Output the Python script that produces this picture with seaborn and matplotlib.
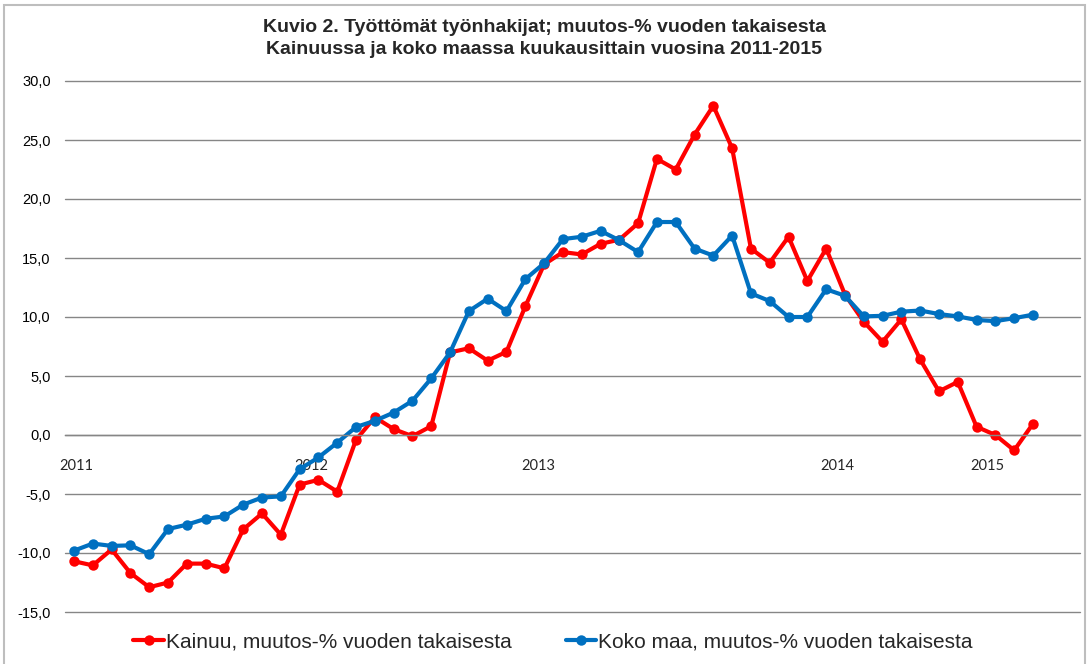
import numpy as np
import pandas as pd
import matplotlib
matplotlib.use("Agg")
import matplotlib.pyplot as plt
from matplotlib.ticker import FuncFormatter, FixedLocator
from matplotlib.patches import Rectangle
import seaborn as sns

# ---- data (monthly, Jan 2011 - Apr 2015) ----
kainuu = [-10.7, -11.05, -9.7, -11.7, -12.9, -12.5, -10.9, -10.9, -11.3, -8.0, -6.65, -8.45,
          -4.2, -3.8, -4.8, -0.4, 1.5, 0.5, -0.1, 0.75, 7.0, 7.35, 6.3, 7.05,
          10.9, 14.45, 15.5, 15.3, 16.2, 16.55, 17.95, 23.4, 22.5, 25.45, 27.9, 24.3,
          15.8, 14.6, 16.8, 13.05, 15.8, 11.9, 9.6, 7.9, 9.8, 6.4, 3.7, 4.5,
          0.7, 0.0, -1.3, 0.95]
koko_maa = [-9.8, -9.2, -9.4, -9.35, -10.1, -7.97, -7.6, -7.1, -6.9, -5.9, -5.3, -5.2,
            -2.9, -1.9, -0.65, 0.68, 1.2, 1.9, 2.9, 4.8, 7.0, 10.5, 11.55, 10.5,
            13.2, 14.55, 16.6, 16.8, 17.3, 16.5, 15.5, 18.05, 18.05, 15.8, 15.2, 16.9,
            12.0, 11.35, 10.0, 10.0, 12.35, 11.8, 10.05, 10.1, 10.45, 10.55, 10.25, 10.05,
            9.75, 9.65, 9.9, 10.2]
n_categories = 54  # category axis runs through Jun 2015
year_labels = ["2011", "2012", "2013", "2014", "2015"]
year_label_pos = [0.1, 12.6, 24.7, 40.6, 48.6]
series_names = ["Kainuu, muutos-% vuoden takaisesta", "Koko maa, muutos-% vuoden takaisesta"]
colors = ["#FF0000", "#0070C0"]
title_lines = ["Kuvio 2. Työttömät työnhakijat; muutos-% vuoden takaisesta",
               "Kainuussa ja koko maassa kuukausittain vuosina 2011-2015"]

sns.set_style("white")
plt.rcParams["font.family"] = ["Liberation Sans", "DejaVu Sans"]

W, H = 1089, 664
fig = plt.figure(figsize=(W / 100, H / 100), dpi=100)
ax = fig.add_axes([64.6 / W, (H - 612) / H, (1080 - 64.6) / W, (612 - 81) / H])

months = np.arange(len(kainuu))
df = pd.DataFrame({"month": np.concatenate([months, months]),
                   "value": kainuu + koko_maa,
                   "series": [series_names[0]] * len(kainuu) + [series_names[1]] * len(koko_maa)})

for name, col in zip(series_names, colors):
    sub = df[df["series"] == name]
    sns.lineplot(data=sub, x="month", y="value", ax=ax, color=col, linewidth=3.0,
                 marker="o", markersize=7.5, markeredgewidth=0, label=name, legend=False)

ax.set_xlim(-0.5, n_categories - 0.5)
ax.set_ylim(-15, 30)
ax.set_xlabel("")
ax.set_ylabel("")

# y axis
ax.yaxis.set_major_locator(FixedLocator(np.arange(-15, 30.1, 5)))
ax.yaxis.set_major_formatter(FuncFormatter(lambda v, p: f"{v:.1f}".replace(".", ",")))
ax.tick_params(axis="y", length=0, pad=10, labelsize=10.5, labelcolor="#000000")
ax.grid(axis="y", color="#868686", linewidth=1.0)
ax.grid(axis="x", visible=False)
for gl in ax.get_ygridlines():
    gl.set_clip_on(False)

# x axis crossing at zero
for s in ["top", "right", "left"]:
    ax.spines[s].set_visible(False)
ax.spines["bottom"].set_position(("data", 0))
ax.spines["bottom"].set_color("#868686")
ax.spines["bottom"].set_linewidth(1.0)
ax.set_xticks(year_label_pos)
ax.set_xticklabels(year_labels, fontfamily="Lato", fontsize=10.5)
ax.set_xticks(np.arange(-0.5, n_categories, 1), minor=True)
ax.tick_params(axis="x", which="major", length=0, pad=17)
ax.tick_params(axis="x", which="minor", length=6, direction="inout", color="#868686", width=1.0)
ax.set_axisbelow(True)

for line, ypix in zip(title_lines, [27, 50]):
    fig.text(0.5, 1 - ypix / H, line, ha="center", va="center", fontsize=14, fontweight="bold")

handles, labels = ax.get_legend_handles_labels()
fig.legend(handles, labels, loc="center", bbox_to_anchor=(553 / W, 1 - 642 / H), ncol=2,
           frameon=False, fontsize=15, handlelength=1.45, handletextpad=0.1, columnspacing=2.6)

fig.add_artist(Rectangle((4 / W, -0.1), (1085 - 4) / W, 1.1 - 5 / H, transform=fig.transFigure,
                         fill=False, edgecolor="#BEBEBE", linewidth=1.5))

fig.savefig("out.png", dpi=100)
